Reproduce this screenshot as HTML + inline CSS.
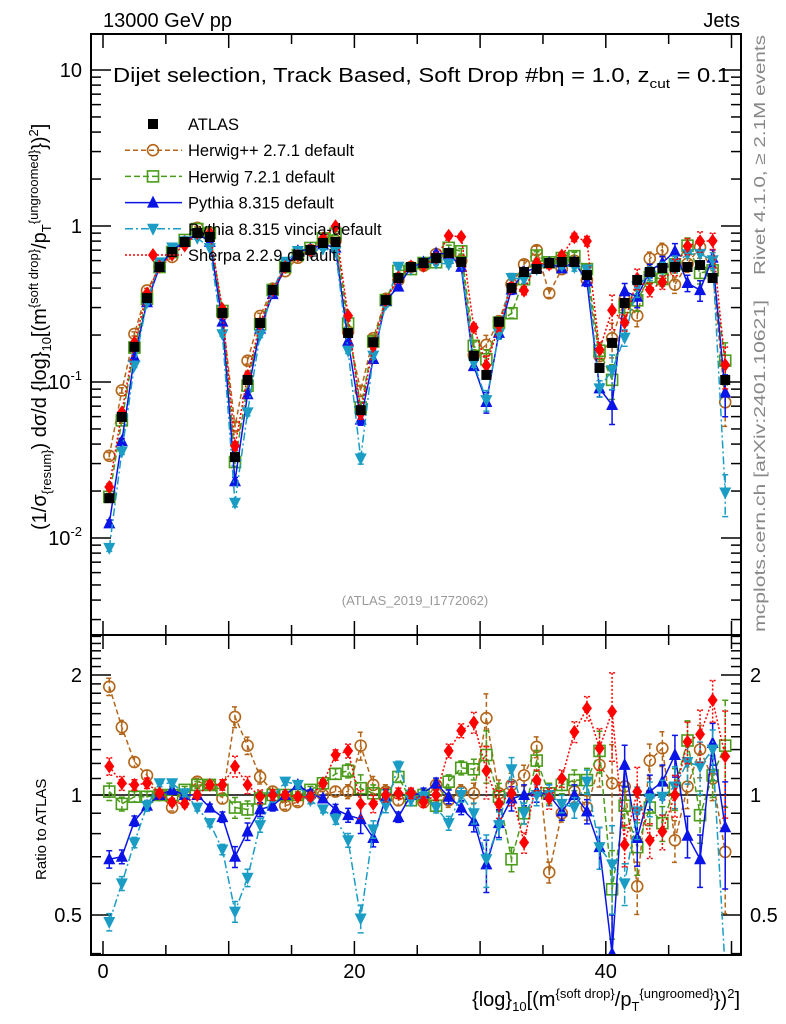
<!DOCTYPE html>
<html><head><meta charset="utf-8"><style>
html,body{margin:0;padding:0;background:#fff;overflow:hidden;width:786px;height:1024px;}
svg{display:block;}
svg text{font-family:"Liberation Sans",sans-serif;}
</style></head><body>
<svg id="chart" width="786" height="1024" viewBox="0 0 786 1024" xmlns="http://www.w3.org/2000/svg" overflow="hidden">
<defs>
<clipPath id="cm"><rect x="91" y="34" width="650" height="601"/></clipPath>
<clipPath id="cr"><rect x="91" y="635" width="650" height="320"/></clipPath>
</defs>
<text x="103" y="27" font-size="20">13000 GeV pp</text>
<text x="740" y="27" font-size="20" text-anchor="end">Jets</text>
<text x="113" y="82" font-size="20" textLength="617" lengthAdjust="spacingAndGlyphs">Dijet selection, Track Based, Soft Drop #bη = 1.0, z<tspan font-size="13" dy="6">cut</tspan><tspan dy="-6"> = 0.1</tspan></text>
<text transform="translate(765,275) rotate(-90)" font-size="16" fill="#888" textLength="240" lengthAdjust="spacingAndGlyphs">Rivet 4.1.0, ≥ 2.1M events</text>
<text transform="translate(765,632) rotate(-90)" font-size="16" fill="#888" textLength="332" lengthAdjust="spacingAndGlyphs">mcplots.cern.ch [arXiv:2401.10621]</text>
<text x="415" y="605" font-size="13" fill="#999" text-anchor="middle">(ATLAS_2019_I1772062)</text>
<text transform="translate(46,530) rotate(-90)" font-size="20">(1/σ<tspan font-size="13" dy="5">{resum}</tspan><tspan dy="-5">) dσ/d {log}</tspan><tspan font-size="13" dy="5">10</tspan><tspan dy="-5">[(m</tspan><tspan font-size="13" dy="-8">{soft drop}</tspan><tspan dy="8">/p</tspan><tspan font-size="13" dy="5">T</tspan><tspan font-size="13" dy="-13">{ungroomed}</tspan><tspan dy="8">})</tspan><tspan font-size="13" dy="-8">2</tspan><tspan dy="8">]</tspan></text>
<text transform="translate(46,880) rotate(-90)" font-size="15">Ratio to ATLAS</text>
<text x="740" y="1006" font-size="20" text-anchor="end">{log}<tspan font-size="13" dy="5">10</tspan><tspan dy="-5">[(m</tspan><tspan font-size="13" dy="-8">{soft drop}</tspan><tspan dy="8">/p</tspan><tspan font-size="13" dy="5">T</tspan><tspan font-size="13" dy="-13">{ungroomed}</tspan><tspan dy="8">})</tspan><tspan font-size="13" dy="-8">2</tspan><tspan dy="8">]</tspan></text>
<g id="axes"></g>
<g id="main" clip-path="url(#cm)"></g>
<g id="ratio" clip-path="url(#cr)"></g>
<g id="legend"></g>
<rect x="91" y="34" width="650" height="601" fill="none" stroke="#000" stroke-width="2"/>
<rect x="91" y="635" width="650" height="320" fill="none" stroke="#000" stroke-width="2"/>
</svg>
<script>
const atlas=[0.018,0.0597,0.168,0.345,0.546,0.681,0.79,0.902,0.85,0.277,0.033,0.103,0.239,0.389,0.546,0.652,0.702,0.778,0.79,0.206,0.066,0.18,0.335,0.464,0.546,0.579,0.623,0.671,0.588,0.147,0.111,0.243,0.40,0.507,0.53,0.579,0.588,0.588,0.485,0.123,0.178,0.321,0.451,0.507,0.538,0.546,0.546,0.562,0.464,0.103];
const rHerwigpp=[1.87,1.48,1.21,1.12,1.0,0.93,1.0,1.08,1.06,0.98,1.57,1.33,1.11,1.02,0.94,0.96,1.0,1.0,1.02,1.02,1.33,1.06,1.02,0.97,1.0,0.96,1.06,0.97,1.02,1.01,1.56,1.01,1.06,1.12,1.32,0.64,0.9,1.02,0.93,1.19,1.07,1.05,0.59,1.22,1.31,0.77,1.05,1.3,1.1,0.72];
const rHerwig7=[1.02,0.95,0.99,0.99,1.0,1.0,1.03,1.06,1.06,1.03,0.93,0.92,0.98,1.0,1.0,1.0,1.03,1.07,1.13,1.15,1.04,1.01,1.0,1.11,0.97,1.0,0.94,1.08,1.17,1.16,1.26,0.99,0.69,0.9,1.22,1.01,1.06,1.09,1.09,1.29,0.58,0.94,0.74,0.93,0.85,1.04,1.37,0.89,1.12,1.33];
const rPythia=[0.69,0.7,0.86,0.94,1.0,1.03,1.0,1.0,0.93,0.88,0.70,0.81,0.92,0.94,1.0,1.06,1.01,0.98,0.92,0.89,0.87,0.78,0.99,0.88,1.0,1.01,1.07,0.99,0.93,0.86,0.67,0.85,0.98,1.0,1.02,1.0,0.91,1.0,0.91,0.74,0.4,1.19,0.78,1.02,1.08,1.26,0.79,0.69,1.35,0.83];
const rVincia=[0.48,0.6,0.76,0.94,1.07,1.07,1.01,0.93,0.85,0.73,0.51,0.62,0.84,0.99,1.08,1.06,0.97,0.92,0.87,0.77,0.49,0.82,0.94,1.18,0.97,0.99,0.93,0.85,1.0,0.9,0.69,0.84,1.16,0.9,1.0,1.0,0.95,0.93,1.08,0.74,0.67,0.6,0.91,0.98,0.99,1.05,1.21,1.18,1.3,0.19];
const rSherpa=[1.18,1.07,1.06,1.07,1.01,0.96,0.95,1.0,1.06,1.06,1.18,1.06,0.99,1.0,1.0,0.99,0.99,1.07,1.26,1.29,0.95,0.95,1.0,1.01,1.01,0.96,1.0,1.29,1.45,1.52,1.15,0.95,1.01,0.76,1.09,0.98,1.1,1.44,1.65,1.31,1.62,0.75,1.02,0.77,0.81,1.0,1.36,1.42,1.73,1.25];
const relErr=[0.05,0.04,0.03,0.03,0.02,0.02,0.02,0.02,0.02,0.03,0.06,0.05,0.04,0.03,0.02,0.02,0.02,0.02,0.03,0.04,0.08,0.05,0.04,0.03,0.03,0.03,0.03,0.04,0.04,0.06,0.15,0.08,0.07,0.06,0.06,0.06,0.05,0.06,0.07,0.12,0.25,0.12,0.15,0.1,0.1,0.12,0.12,0.15,0.12,0.3];
const xTicks=[0,20,40];
const mainTicks=[{v:10,t:"10"},{v:1,t:"1"},{v:0.1,t:"10^-1"},{v:0.01,t:"10^-2"}];
const ratioTicks=[2,1,0.5];

const NS="http://www.w3.org/2000/svg";
const clamp=(y,a,b)=>Math.max(a,Math.min(b,y));
const X=v=>103+12.57*v;
const YM=v=>clamp(226-156*Math.log10(v),20,650);
const YR=v=>clamp(795-398.6*Math.log10(v),620,970);
function el(tag,attrs,parent){const e=document.createElementNS(NS,tag);for(const k in attrs)e.setAttribute(k,attrs[k]);parent.appendChild(e);return e;}
const axes=document.getElementById('axes'),gm=document.getElementById('main'),gr=document.getElementById('ratio'),gl=document.getElementById('legend');

for(let v=0;v<=50;v+=5){
  for(const [y0,d] of [[34,1],[635,-1],[635,1],[955,-1]]){
    const t=el('line',{x1:X(v),x2:X(v),y1:y0,y2:y0+d*(v%10===0?14:10),stroke:'#000','stroke-width':1.5},axes);
    
    
  }
}
xTicks.forEach(v=>{const t=el('text',{x:X(v),y:978,'font-size':20,'text-anchor':'middle'},axes);t.textContent=v;
  
  });
for(let e=-3;e<=1;e++){for(let m=1;m<=9;m++){const v=m*Math.pow(10,e);const y=226-156*Math.log10(v);if(y<34||y>635)continue;const L=m===1?20:10;
  for(const [x0,d] of [[91,1],[741,-1]]){const t=el('line',{x1:x0,x2:x0+d*L,y1:y,y2:y,stroke:'#000','stroke-width':1.5},axes);
  
  }}}
mainTicks.forEach(o=>{const y=YM(o.v);const t=el('text',{x:82,y:y+7,'font-size':20,'text-anchor':'end'},axes);
  if(o.t.indexOf('^')>0){const p=o.t.split('^');t.textContent=p[0];const s=el('tspan',{'font-size':13,dy:-9},t);s.textContent=p[1];}else t.textContent=o.t;
  
  });
for(let v=0.4;v<=2.55;v+=0.1){const y=795-398.6*Math.log10(v);if(y<636||y>954)continue;const major=[0.5,1,2].some(q=>Math.abs(q-v)<1e-6);
  for(const [x0,d] of [[91,1],[741,-1]]){const t=el('line',{x1:x0,x2:x0+d*(major?20:10),y1:y,y2:y,stroke:'#000','stroke-width':1.5},axes);
  
  }}
ratioTicks.forEach(v=>{const y=YR(v);
  const t=el('text',{x:82,y:y+7,'font-size':20,'text-anchor':'end'},axes);t.textContent=v;
  
  
  const t2=el('text',{x:750,y:y+7,'font-size':20},axes);t2.textContent=v;
  
  });
const one=el('line',{x1:91,x2:741,y1:YR(1),y2:YR(1),stroke:'#000','stroke-width':1.5},gr);



function marker(type,cx,cy,color,g){
  let m;
  if(type==='sq')m=el('rect',{x:cx-5,y:cy-5,width:10,height:10,fill:'#000'},g);
  else if(type==='circ')m=el('circle',{cx:cx,cy:cy,r:5.5,fill:'none',stroke:color,'stroke-width':1.6},g);
  else if(type==='osq')m=el('rect',{x:cx-5.5,y:cy-5.5,width:11,height:11,fill:'none',stroke:color,'stroke-width':1.6},g);
  else if(type==='up')m=el('polygon',{points:`${cx},${cy-7} ${cx-6},${cy+5} ${cx+6},${cy+5}`,fill:color},g);
  else if(type==='down')m=el('polygon',{points:`${cx},${cy+7} ${cx-6},${cy-5} ${cx+6},${cy-5}`,fill:color},g);
  else m=el('polygon',{points:`${cx},${cy-7} ${cx-5},${cy} ${cx},${cy+7} ${cx+5},${cy}`,fill:color},g);
  return m;
}
const series=[
 {name:'herwigpp',label:'Herwig++ 2.7.1 default',r:rHerwigpp,color:'#b3661a',dash:'5,3',mk:'circ'},
 {name:'herwig7',label:'Herwig 7.2.1 default',r:rHerwig7,color:'#4a9c1a',dash:'6,3',mk:'osq'},
 {name:'pythia',label:'Pythia 8.315 default',r:rPythia,color:'#0a14e6',dash:'',mk:'up'},
 {name:'vincia',label:'Pythia 8.315 vincia-default',r:rVincia,color:'#1a9cc4',dash:'8,3,2,3',mk:'down'},
 {name:'sherpa',label:'Sherpa 2.2.9 default',r:rSherpa,color:'#ff0000',dash:'2,2',mk:'dia'}
];
series.forEach(s=>{
  [[gm,i=>atlas[i]*s.r[i],YM],[gr,i=>s.r[i],YR]].forEach(([g,val,Y])=>{
    const sg=el('g',{},g);
    
    
    let pts=atlas.map((_,i)=>X(i+0.5)+','+Y(val(i))).join(' ');
    const pl=el('polyline',{points:pts,fill:'none',stroke:s.color,'stroke-width':1.5,'stroke-dasharray':s.dash},sg);
    
    
    atlas.forEach((_,i)=>{const v=val(i),e=relErr[i]*v,x=X(i+0.5);
      const eb=el('path',{d:`M${x},${Y(v+e)}V${Y(Math.max(v-e,1e-4))}M${x-3},${Y(v+e)}h6M${x-3},${Y(Math.max(v-e,1e-4))}h6`,stroke:s.color,'stroke-width':1.5,fill:'none','stroke-dasharray':s.dash},sg);
      
      
      const m=marker(s.mk,x,Y(v),s.color,sg);
      
      
    });
  });
});
const ag=el('g',{},gm);


atlas.forEach((v,i)=>{const m=marker('sq',X(i+0.5),YM(v),'#000',ag);
  
  });
const rows=[{label:'ATLAS',mk:'sq',color:'#000',dash:null}].concat(series.map(s=>({label:s.label,mk:s.mk,color:s.color,dash:s.dash})));
rows.forEach((r,k)=>{const y=124+26.2*k;const g=el('g',{},gl);
  
  
  if(r.dash!==null)el('line',{x1:125,x2:182,y1:y,y2:y,stroke:r.color,'stroke-width':1.5,'stroke-dasharray':r.dash},g);
  marker(r.mk,153,y,r.color,g);
  const t=el('text',{x:188,y:y+6,'font-size':16.5},g);t.textContent=r.label;});
</script>
</body></html>
